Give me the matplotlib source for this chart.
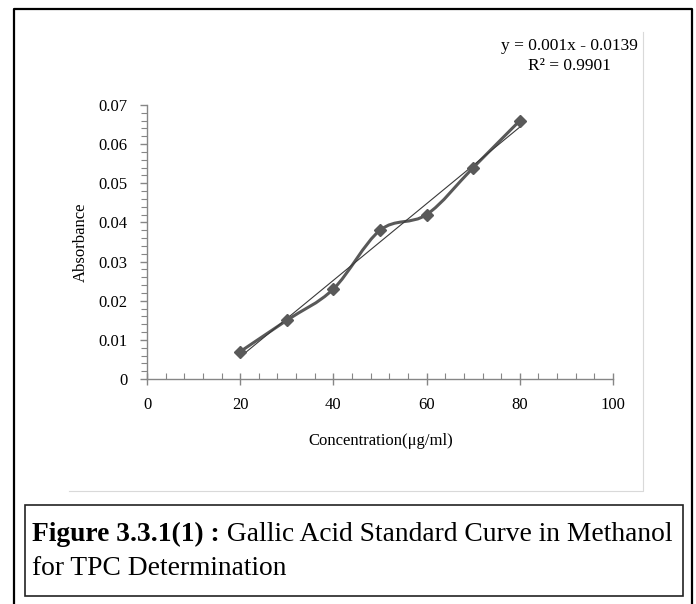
import numpy as np
import matplotlib
matplotlib.use('Agg')
import matplotlib.pyplot as plt
from matplotlib.path import Path
from matplotlib.patches import PathPatch, Rectangle
from matplotlib.lines import Line2D
from matplotlib.ticker import MultipleLocator

# Veriler
konsantrasyon = [20, 30, 40, 50, 60, 70, 80]
absorbans = [0.007, 0.015, 0.023, 0.038, 0.042, 0.054, 0.066]
x_ticks = [0, 20, 40, 60, 80, 100]
y_ticks = [0, 0.01, 0.02, 0.03, 0.04, 0.05, 0.06, 0.07]
denklem = "y = 0.001x - 0.0139\nR² = 0.9901"
baslik_kalin = "Figure 3.3.1(1) :"
baslik_normal = " Gallic Acid Standard Curve in Methanol"
baslik_ikinci = "for TPC Determination"

W, H = 696, 604
serif = ['Liberation Serif', 'DejaVu Serif']
gri = '#595959'
eksen_gri = '#868686'
yazi = 12

fig = plt.figure(figsize=(W / 100, H / 100), dpi=100)


def fx(px):
    return px / W


def fy(py):
    return 1 - py / H


# Dış çerçeve (alt kenar yok)
fig.add_artist(Line2D([fx(14), fx(14), fx(692), fx(692)], [0, fy(9), fy(9), 0],
                      transform=fig.transFigure, color='black', lw=1.6))
# Grafik alanı çerçevesi (açık gri)
fig.add_artist(Line2D([fx(69), fx(643), fx(643)], [fy(491), fy(491), fy(32)],
                      transform=fig.transFigure, color='#d9d9d9', lw=0.8))
# Başlık kutusu
fig.add_artist(Rectangle((fx(25), fy(596)), fx(683) - fx(25), fy(505) - fy(596),
                         transform=fig.transFigure, fill=False, edgecolor='#222222', lw=1.2))

ax = fig.add_axes([fx(147), fy(379), fx(613) - fx(147), fy(105) - fy(379)])
x = np.array(konsantrasyon, dtype=float)
y = np.array(absorbans)

# Excel tarzı yumuşatılmış çizgi (Bezier)
verts = [(x[0], y[0])]
codes = [Path.MOVETO]
n = len(x)
for i in range(n - 1):
    p0 = (x[max(i - 1, 0)], y[max(i - 1, 0)])
    p1 = (x[i], y[i])
    p2 = (x[i + 1], y[i + 1])
    p3 = (x[min(i + 2, n - 1)], y[min(i + 2, n - 1)])
    c1 = (p1[0] + (p2[0] - p0[0]) / 6, p1[1] + (p2[1] - p0[1]) / 6)
    c2 = (p2[0] - (p3[0] - p1[0]) / 6, p2[1] - (p3[1] - p1[1]) / 6)
    verts += [c1, c2, p2]
    codes += [Path.CURVE4] * 3
ax.add_patch(PathPatch(Path(verts, codes), fill=False, edgecolor=gri, lw=2.2, zorder=3))

# Doğrusal trend çizgisi
egim, kesim = np.polyfit(x, y, 1)
ax.plot([x[0], x[-1]], [egim * x[0] + kesim, egim * x[-1] + kesim], color='#3a3a3a', lw=0.8, zorder=4)
ax.plot(x, y, linestyle='none', marker='D', markersize=6.5, color=gri, zorder=5)

ax.set_xlim(0, 100)
ax.set_ylim(0, 0.07)
ax.set_xticks(x_ticks)
ax.set_yticks(y_ticks)
ax.set_yticklabels(['0'] + [f'{v:.2f}' for v in y_ticks[1:]])
ax.xaxis.set_minor_locator(MultipleLocator(4))
ax.yaxis.set_minor_locator(MultipleLocator(0.002))
for s in ['top', 'right']:
    ax.spines[s].set_visible(False)
for s in ['left', 'bottom']:
    ax.spines[s].set_color(eksen_gri)
    ax.spines[s].set_linewidth(1.0)
ax.tick_params(which='major', direction='inout', length=8, color=eksen_gri, width=1.0,
               labelsize=yazi)
ax.tick_params(which='minor', direction='in', length=4, color=eksen_gri, width=0.8)
ax.tick_params(axis='x', which='major', pad=9)
ax.tick_params(axis='y', which='major', direction='out', length=5, pad=9)
ax.tick_params(axis='y', which='minor', direction='out', length=4)
for lbl in ax.get_xticklabels() + ax.get_yticklabels():
    lbl.set_family(serif)
ax.patch.set_alpha(0)

fig.text(fx(81), fy(242), 'Absorbance', rotation=90, ha='center', va='center',
         family=serif, fontsize=yazi)
fig.text(fx(381), fy(441), 'Concentration(μg/ml)', ha='center', va='center',
         family=serif, fontsize=yazi)
fig.text(fx(569), fy(56), denklem, ha='center', va='center', family=serif,
         fontsize=12.5, linespacing=1.3, multialignment='center')

# Başlık metni: ilk satırı kutu genişliğine sığdır
cap_font = ['Liberation Serif', 'DejaVu Serif']
t1 = fig.text(fx(32), fy(541), baslik_kalin, ha='left', va='baseline', family=cap_font,
              fontsize=15, fontweight='bold')
t2 = fig.text(0, fy(541), baslik_normal, ha='left', va='baseline', family=cap_font, fontsize=15)
fig.canvas.draw()
w_toplam = t1.get_window_extent().width + t2.get_window_extent().width
boyut = 15 * 644 / w_toplam
t1.set_fontsize(boyut)
t2.set_fontsize(boyut)
fig.canvas.draw()
bb = t1.get_window_extent()
t2.set_x(bb.x1 / W)
fig.text(fx(32), fy(575), baslik_ikinci, ha='left', va='baseline', family=cap_font, fontsize=boyut)

fig.savefig('out.png', dpi=100)
